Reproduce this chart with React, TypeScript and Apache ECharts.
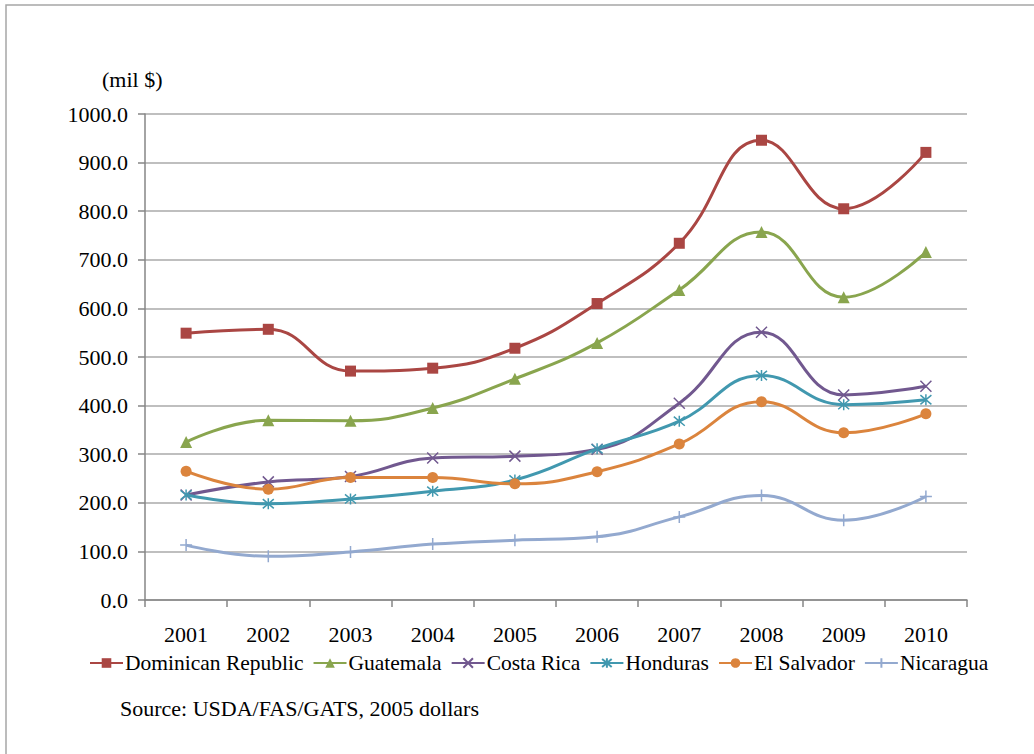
import React, { useEffect, useRef } from "react";
import * as echarts from "echarts";

const years = ["2001", "2002", "2003", "2004", "2005", "2006", "2007", "2008", "2009", "2010"];
const dominicanRepublic = [549, 557, 471, 477, 518, 610, 734, 946, 805, 921];
const guatemala = [325, 370, 369, 395, 455, 529, 638, 757, 623, 716];
const costaRica = [216, 243, 254, 292, 296, 310, 405, 551, 422, 440];
const honduras = [216, 198, 208, 224, 247, 311, 368, 462, 402, 412];
const elSalvador = [265, 228, 252, 252, 239, 264, 321, 408, 344, 383];
const nicaragua = [113, 90, 99, 115, 123, 130, 171, 215, 164, 213];

const FONT = "Liberation Serif, DejaVu Serif, serif";

const X_PATH = "path://M0,0L10,10M10,0L0,10";
const STAR_PATH = "path://M0,0L10,10M10,0L0,10M5,-1L5,11";
const PLUS_PATH = "path://M6,0L6,12M0,6L12,6";

export default function App() {
  const ref = useRef<HTMLDivElement>(null);
  useEffect(() => {
    if (!ref.current) return;
    const chart = echarts.init(ref.current, null, { renderer: "svg" });
    const mk = (name: string, data: number[], color: string, symbol: string, size: number, stroke: boolean) => ({
      name,
      type: "line",
      data,
      smooth: 0.45,
      symbol,
      symbolSize: size,
      showAllSymbol: true,
      lineStyle: { color, width: 3 },
      itemStyle: stroke
        ? { color, borderColor: color, borderWidth: 1.5 }
        : { color, borderWidth: 0 },
      emphasis: { disabled: true },
    });
    chart.setOption({
      animation: false,
      backgroundColor: "#ffffff",
      color: ["#AA4643", "#89A54E", "#71588F", "#4198AF", "#DB843D", "#93A9CF"],
      grid: { left: 145, right: 67, top: 114, bottom: 154, containLabel: false },
      graphic: [
        {
          type: "rect",
          shape: { x: 6, y: 5, width: 1100, height: 800 },
          style: { fill: "none", stroke: "#A6A6A6", lineWidth: 1.5 },
          silent: true,
        },
        {
          type: "text",
          left: 102,
          top: 68,
          style: { text: "(mil $)", fontFamily: FONT, fontSize: 22, fill: "#000" },
        },
        {
          type: "text",
          left: 120,
          top: 697,
          style: { text: "Source: USDA/FAS/GATS, 2005 dollars", fontFamily: FONT, fontSize: 22, fill: "#000" },
        },
      ],
      legend: {
        left: 84,
        top: 647,
        itemWidth: 33,
        itemHeight: 12,
        itemGap: 9,
        textStyle: { fontFamily: FONT, fontSize: 21.5, color: "#000", padding: [0, 0, 0, -3] },
        data: ["Dominican Republic", "Guatemala", "Costa Rica", "Honduras", "El Salvador", "Nicaragua"],
      },
      xAxis: {
        type: "category",
        data: years,
        boundaryGap: true,
        axisLine: { lineStyle: { color: "#868686", width: 1.5 } },
        axisTick: { show: true, length: 7, alignWithLabel: false, lineStyle: { color: "#868686", width: 1.5 } },
        axisLabel: { fontFamily: FONT, fontSize: 22, color: "#000", margin: 23 },
        splitLine: { show: false },
      },
      yAxis: {
        type: "value",
        min: 0,
        max: 1000,
        interval: 100,
        axisLine: { show: true, lineStyle: { color: "#868686", width: 1.5 } },
        axisTick: { show: true, length: 7, lineStyle: { color: "#868686", width: 1.5 } },
        axisLabel: {
          fontFamily: FONT,
          fontSize: 22,
          color: "#000",
          margin: 17,
          formatter: (v: number) => v.toFixed(1),
        },
        splitLine: { show: true, lineStyle: { color: "#AAAAAA", width: 1.5 } },
      },
      series: [
        mk("Dominican Republic", dominicanRepublic, "#AA4643", "rect", 11, false),
        mk("Guatemala", guatemala, "#89A54E", "triangle", 12, false),
        mk("Costa Rica", costaRica, "#71588F", X_PATH, 11, true),
        mk("Honduras", honduras, "#4198AF", STAR_PATH, 11, true),
        mk("El Salvador", elSalvador, "#DB843D", "circle", 11, false),
        mk("Nicaragua", nicaragua, "#93A9CF", PLUS_PATH, 12, true),
      ],
    });
    return () => chart.dispose();
  }, []);
  return (
    <div
      ref={ref}
      style={{ position: "fixed", left: 0, top: 0, width: 1034, height: 754, background: "#fff" }}
    />
  );
}
